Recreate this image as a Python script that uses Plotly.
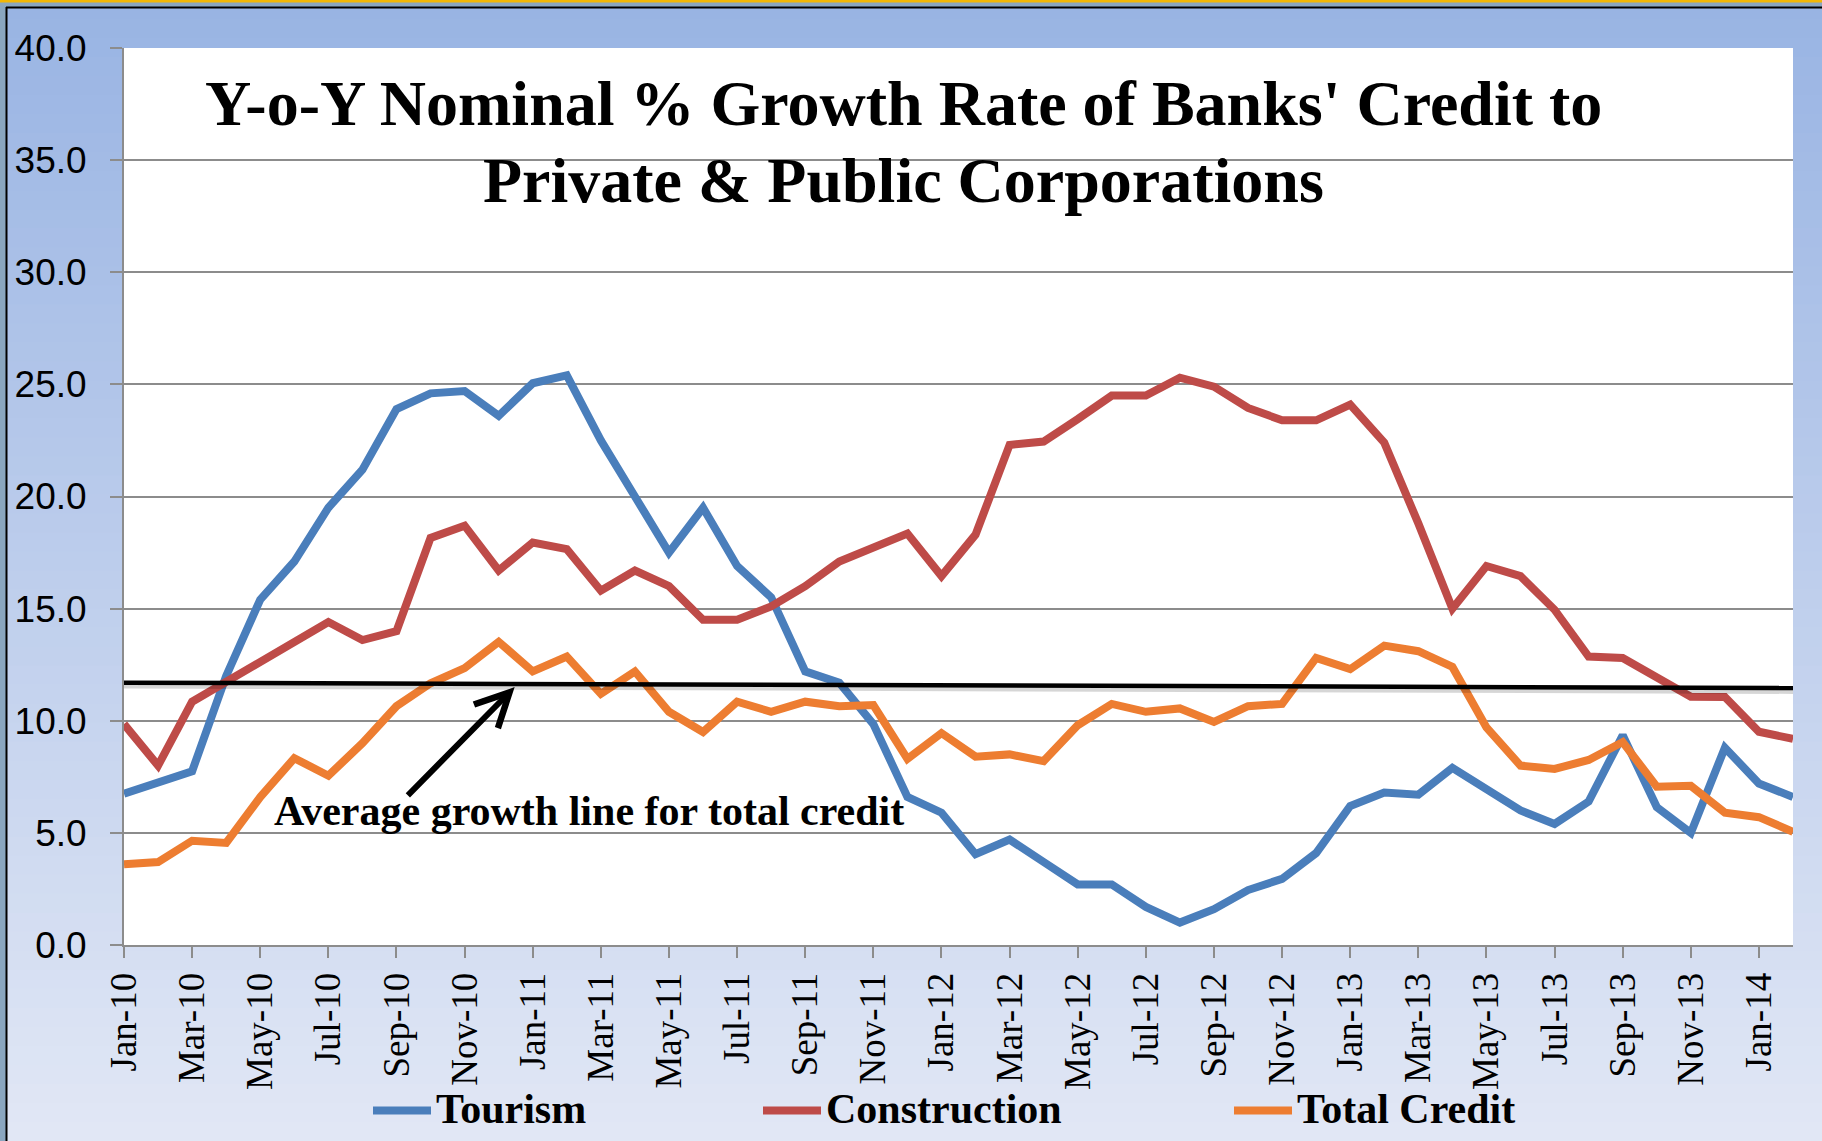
import plotly.graph_objects as go

# ---- data -------------------------------------------------------------
months = [
    "Jan-10", "Feb-10", "Mar-10", "Apr-10", "May-10", "Jun-10", "Jul-10", "Aug-10",
    "Sep-10", "Oct-10", "Nov-10", "Dec-10", "Jan-11", "Feb-11", "Mar-11", "Apr-11",
    "May-11", "Jun-11", "Jul-11", "Aug-11", "Sep-11", "Oct-11", "Nov-11", "Dec-11",
    "Jan-12", "Feb-12", "Mar-12", "Apr-12", "May-12", "Jun-12", "Jul-12", "Aug-12",
    "Sep-12", "Oct-12", "Nov-12", "Dec-12", "Jan-13", "Feb-13", "Mar-13", "Apr-13",
    "May-13", "Jun-13", "Jul-13", "Aug-13", "Sep-13", "Oct-13", "Nov-13", "Dec-13",
    "Jan-14", "Feb-14",
]

tourism = [
    6.75, 7.25, 7.75, 12.0, 15.4, 17.1, 19.5, 21.2, 23.9, 24.6,
    24.7, 23.6, 25.05, 25.4, 22.5, 20.0, 17.5, 19.5, 16.9, 15.5,
    12.2, 11.7, 9.85, 6.6, 5.9, 4.05, 4.7, 3.7, 2.7, 2.7,
    1.7, 1.0, 1.6, 2.45, 2.95, 4.1, 6.2, 6.8, 6.7, 7.9,
    6.95, 6.0, 5.4, 6.4, 9.35, 6.15, 5.0, 8.8, 7.2, 6.6,
]

construction = [
    9.85, 8.0, 10.85, 11.75, 12.6, 13.5, 14.4, 13.6, 14.0, 18.15,
    18.7, 16.7, 17.95, 17.65, 15.8, 16.7, 16.0, 14.5, 14.5, 15.1,
    16.0, 17.1, 17.75, 18.35, 16.45, 18.3, 22.3, 22.45, 23.45, 24.5,
    24.5, 25.3, 24.9, 23.95, 23.4, 23.4, 24.1, 22.4, 18.8, 15.0,
    16.9, 16.45, 14.95, 12.86, 12.8, 11.97, 11.07, 11.06, 9.51, 9.19,
]

total_credit = [
    3.6, 3.7, 4.65, 4.55, 6.6, 8.33, 7.55, 9.0, 10.65, 11.67,
    12.35, 13.52, 12.2, 12.86, 11.2, 12.2, 10.4, 9.5, 10.85, 10.4,
    10.85, 10.65, 10.7, 8.3, 9.45, 8.4, 8.5, 8.2, 9.8, 10.75,
    10.4, 10.55, 9.95, 10.65, 10.75, 12.8, 12.3, 13.35, 13.1, 12.4,
    9.7, 8.0, 7.85, 8.25, 9.05, 7.06, 7.1, 5.9, 5.7, 5.05,
]

# hand-drawn average growth line for total credit (start / end level)
avg_line = [11.70, 11.46]

series_names = ["Tourism", "Construction", "Total Credit"]
series_colors = ["#4A7EBB", "#BE4B48", "#ED7D31"]
y_ticks = [0, 5, 10, 15, 20, 25, 30, 35, 40]

title_lines = ["Y-o-Y Nominal % Growth Rate of Banks' Credit to",
               "Private & Public Corporations"]
note_text = "Average growth line for total credit"

# ---- geometry helpers (figure pixels -> paper coords) -----------------
W, H = 1822, 1141
ML, MR, MT, MB = 124, 29, 48, 196
PW, PH = W - ML - MR, H - MT - MB


def px_x(x):
    return (x - ML) / PW


def px_y(y):
    return (H - MB - y) / PH


SERIF = "Liberation Serif, Times New Roman, serif"
SANS = "Liberation Sans, Arial, sans-serif"
GRID = "#8c8c8c"

fig = go.Figure()
for name, vals, col in zip(series_names, [tourism, construction, total_credit], series_colors):
    fig.add_trace(go.Scatter(
        x=months, y=vals, mode="lines", name=name,
        line=dict(color=col, width=8), showlegend=False,
        hovertemplate="%{x}: %{y:.1f}<extra>" + name + "</extra>",
    ))

shapes = []

# background: vertical blue gradient behind the whole chart
n_bands = 60
top_rgb = (153, 180, 227)
bot_rgb = (225, 231, 245)
for i in range(n_bands):
    t = i / (n_bands - 1)
    r, g, b = (round(a + (c - a) * t) for a, c in zip(top_rgb, bot_rgb))
    y0 = i * H / n_bands
    y1 = (i + 1) * H / n_bands + 1
    shapes.append(dict(type="rect", xref="paper", yref="paper", layer="below",
                       x0=px_x(0), x1=px_x(W), y0=px_y(y1), y1=px_y(y0),
                       fillcolor=f"rgb({r},{g},{b})", line=dict(width=0)))

# white plotting area
shapes.append(dict(type="rect", xref="paper", yref="paper", layer="below",
                   x0=0, x1=1, y0=0, y1=1, fillcolor="white", line=dict(width=0)))

# outer frame: gold top edge, grey-blue strips and black border lines
shapes += [
    dict(type="rect", xref="paper", yref="paper", layer="above",
         x0=px_x(0), x1=px_x(W), y0=px_y(7), y1=px_y(0),
         fillcolor="#8aa6bf", line=dict(width=0)),
    dict(type="rect", xref="paper", yref="paper", layer="above",
         x0=px_x(0), x1=px_x(W), y0=px_y(2.5), y1=px_y(0),
         fillcolor="#f2b705", line=dict(width=0)),
    dict(type="rect", xref="paper", yref="paper", layer="above",
         x0=px_x(0), x1=px_x(6), y0=px_y(H), y1=px_y(7),
         fillcolor="#8aa6bf", line=dict(width=0)),
    dict(type="line", xref="paper", yref="paper", layer="above",
         x0=px_x(6), x1=px_x(W), y0=px_y(7.5), y1=px_y(7.5),
         line=dict(color="black", width=2)),
    dict(type="line", xref="paper", yref="paper", layer="above",
         x0=px_x(6.5), x1=px_x(6.5), y0=px_y(H), y1=px_y(7),
         line=dict(color="black", width=2)),
]

# average growth line (with a soft shadow underneath)
shapes.append(dict(type="line", xref="x", yref="y", layer="above",
                   x0=-0.15, x1=len(months) - 1, y0=avg_line[0] - 0.13, y1=avg_line[1] - 0.13,
                   line=dict(color="rgba(0,0,0,0.16)", width=6)))
shapes.append(dict(type="line", xref="x", yref="y", layer="above",
                   x0=-0.15, x1=len(months) - 1, y0=avg_line[0], y1=avg_line[1],
                   line=dict(color="black", width=4.5)))

annotations = []

# legend drawn along the bottom
legend_x = [373, 763, 1234]
for name, col, lx in zip(series_names, series_colors, legend_x):
    shapes.append(dict(type="line", xref="paper", yref="paper", layer="above",
                       x0=px_x(lx), x1=px_x(lx + 58), y0=px_y(1110.5), y1=px_y(1110.5),
                       line=dict(color=col, width=8)))
    annotations.append(dict(xref="paper", yref="paper", x=px_x(lx + 61), y=px_y(1109),
                            xanchor="left", yanchor="middle", showarrow=False,
                            text=f"<b>{name}</b>",
                            font=dict(family=SERIF, size=42, color="black")))

# title, two centred lines
for line_text, ymid in zip(title_lines, [103, 181]):
    annotations.append(dict(xref="paper", yref="paper", x=px_x(903), y=px_y(ymid),
                            xanchor="center", yanchor="middle", showarrow=False,
                            text=f"<b>{line_text}</b>",
                            font=dict(family=SERIF, size=64, color="black")))

# label and arrow pointing at the average line
annotations.append(dict(xref="paper", yref="paper", x=px_x(589), y=px_y(811),
                        xanchor="center", yanchor="middle", showarrow=False,
                        text=f"<b>{note_text}</b>",
                        font=dict(family=SERIF, size=42, color="black")))
annotations.append(dict(xref="x", yref="y", x=11.47, y=11.5,
                        axref="x", ayref="y", ax=8.29, ay=6.61,
                        text="", showarrow=True, arrowhead=5, arrowsize=1.1,
                        arrowwidth=6, arrowcolor="black", standoff=0))

fig.update_layout(
    width=W, height=H,
    margin=dict(l=ML, r=MR, t=MT, b=MB, pad=0, autoexpand=False),
    paper_bgcolor="#c4d2ee",
    plot_bgcolor="white",
    shapes=shapes,
    annotations=annotations,
    showlegend=False,
    xaxis=dict(
        type="category", range=[0, len(months) - 1], automargin=False,
        tickmode="array", tickvals=months[::2], ticktext=months[::2],
        tickangle=-90, ticks="outside", ticklen=11, tickwidth=2, tickcolor=GRID,
        showline=True, linecolor=GRID, linewidth=2, showgrid=False,
        tickfont=dict(family=SERIF, size=37, color="black"),
        ticklabelstandoff=0,
    ),
    yaxis=dict(
        range=[0, 40], tickmode="array", tickvals=y_ticks, tickformat=".1f",
        automargin=False,
        ticks="outside", ticklen=12, tickwidth=2, tickcolor=GRID,
        showline=True, linecolor=GRID, linewidth=2,
        showgrid=True, gridcolor=GRID, gridwidth=2, zeroline=False,
        tickfont=dict(family=SANS, size=37, color="black"),
        ticklabelstandoff=16,
    ),
)

fig.write_html("out.html")
